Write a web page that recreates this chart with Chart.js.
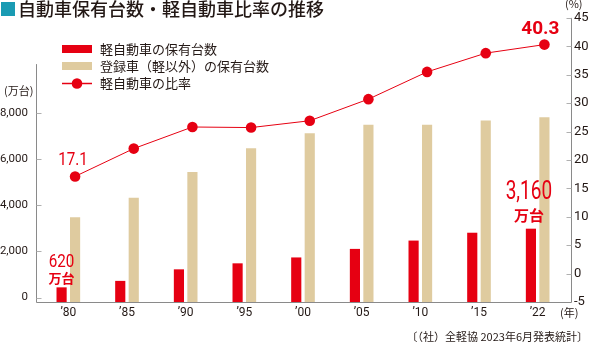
<!DOCTYPE html>
<html lang="ja">
<head>
<meta charset="utf-8">
<script src="https://cdn.jsdelivr.net/npm/chart.js@4/dist/chart.umd.min.js"></script>
<style>
  html, body { margin: 0; padding: 0; background: #fff; }
</style>
</head>
<body>
<canvas id="chart" width="590" height="346"></canvas>
<script>
// data
const years = ['’80', '’85', '’90', '’95', '’00', '’05', '’10', '’15', '’22'];
const keiCars = [620, 900, 1400, 1660, 1915, 2285, 2645, 2985, 3160];          // 万台
const registeredCars = [3660, 4500, 5615, 6645, 7290, 7660, 7660, 7845, 7985];  // 万台
const keiShare = [17.1, 22.0, 25.8, 25.7, 26.9, 30.7, 35.5, 38.8, 40.3];        // %
const unitTicks = [0, 2000, 4000, 6000, 8000];

const FONT = "'Noto Sans CJK JP', sans-serif";
const NUM_FONT = "Roboto, 'Noto Sans CJK JP', sans-serif";
const RED = '#e60012';
const BEIGE = '#dfcb9f';
const TEAL = '#1a9bb3';
const TEXT = '#231815';
const AXIS = '#8a8a8a';
const SLOT = 0.115;          // bar pair sits either side of the year, in category units
const LEFT_AXIS_TOP = 10300; // left axis line starts below the legend

function drawText(ctx, text, x, y, font, color, squeeze = 1, align = 'center') {
  ctx.save();
  ctx.font = font;
  ctx.fillStyle = color;
  ctx.textAlign = align;
  ctx.textBaseline = 'middle';
  ctx.translate(x, y);
  ctx.scale(squeeze, 1);
  ctx.fillText(text, 0, 0);
  ctx.restore();
}

function hLine(ctx, x1, x2, y) {
  ctx.beginPath();
  ctx.moveTo(x1, y);
  ctx.lineTo(x2, y);
  ctx.stroke();
}

const decor = {
  id: 'decor',
  afterDraw(chart) {
    const ctx = chart.ctx;
    const area = chart.chartArea;
    const yL = chart.scales.y;
    const yR = chart.scales.y2;
    const axL = area.left - 3 + 0.5;
    const axR = area.right + 4 + 0.5;
    const axB = area.bottom + 0.5;

    // axis lines with inward tick marks
    ctx.save();
    ctx.strokeStyle = AXIS;
    ctx.lineWidth = 1;
    ctx.beginPath();
    ctx.moveTo(axL, yL.getPixelForValue(LEFT_AXIS_TOP));
    ctx.lineTo(axL, axB);
    ctx.lineTo(axR, axB);
    ctx.lineTo(axR, area.top);
    ctx.stroke();
    ctx.strokeStyle = '#b0b0b0';
    unitTicks.forEach(v => {
      hLine(ctx, axL, axL + 5, Math.round(yL.getPixelForValue(v) - 4.5) + 0.5);
    });
    yR.ticks.forEach(t => {
      if (t.value > -5) hLine(ctx, axR - 5, axR, Math.round(yR.getPixelForValue(t.value)) + 0.5);
    });
    ctx.restore();

    // title
    ctx.fillStyle = TEAL;
    ctx.fillRect(1, 2, 14, 14);
    drawText(ctx, '自動車保有台数・軽自動車比率の推移', 18, 9, `500 18px ${FONT}`, TEXT, 1, 'left');

    // legend
    const ds = chart.data.datasets;
    ctx.fillStyle = ds[0].backgroundColor;
    ctx.fillRect(62, 45, 30, 8);
    ctx.fillStyle = ds[1].backgroundColor;
    ctx.fillRect(62, 62, 30, 8);
    ctx.save();
    ctx.strokeStyle = RED;
    ctx.lineWidth = 1.5;
    hLine(ctx, 62, 92, 83.5);
    ctx.fillStyle = RED;
    ctx.beginPath();
    ctx.arc(77, 83.5, 5.3, 0, Math.PI * 2);
    ctx.fill();
    ctx.restore();
    drawText(ctx, ds[0].label, 100, 49, `13px ${FONT}`, TEXT, 1, 'left');
    drawText(ctx, ds[1].label, 100, 66, `13px ${FONT}`, TEXT, 1, 'left');
    drawText(ctx, ds[2].label, 100, 83, `13px ${FONT}`, TEXT, 1, 'left');

    // unit labels and source
    drawText(ctx, '(万台)', 4, 91, `11px ${FONT}`, TEXT, 1, 'left');
    drawText(ctx, '(%)', 565, 4, `11px ${FONT}`, TEXT, 1, 'left');
    drawText(ctx, '(年)', 560, 313, `11px ${FONT}`, TEXT, 1, 'left');
    drawText(ctx, '〔（社）全軽協 2023年6月発表統計〕', 588, 337, `11px ${FONT}`, TEXT, 1, 'right');

    // value callouts
    const line = chart.getDatasetMeta(2).data;
    const kei = chart.getDatasetMeta(0).data;
    const first = line[0], last = line[line.length - 1];
    drawText(ctx, keiShare[0].toFixed(1), first.x - 2, first.y - 16, `19px ${NUM_FONT}`, RED, 0.8);
    drawText(ctx, keiShare[keiShare.length - 1].toFixed(1), last.x - 4, last.y - 15, `bold 19px ${NUM_FONT}`, RED, 1);

    const b0 = kei[0], bN = kei[kei.length - 1];
    drawText(ctx, keiCars[0].toLocaleString('en-US'), b0.x, b0.y - 25, `19px ${NUM_FONT}`, RED, 0.8);
    drawText(ctx, '万台', b0.x, b0.y - 10, `bold 13px ${FONT}`, RED, 1);
    drawText(ctx, keiCars[keiCars.length - 1].toLocaleString('en-US'), bN.x - 2, bN.y - 36, `25px ${NUM_FONT}`, RED, 0.76);
    drawText(ctx, '万台', bN.x - 2, bN.y - 14, `bold 15px ${FONT}`, RED, 1);
  }
};

const byIndex = arr => arr.map((v, i) => ({ x: i, y: v }));
const barStyle = { type: 'bar', yAxisID: 'y', barThickness: 9.5, grouped: false, order: 2 };

// hidden linear x axes, shifted half a bar pair left/right of each year
function slotAxis(shift) {
  return {
    type: 'linear',
    display: false,
    offset: false,
    grid: { offset: false },
    min: -0.5 - shift,
    max: years.length - 0.5 - shift
  };
}

new Chart(document.getElementById('chart'), {
  data: {
    labels: years,
    datasets: [
      { ...barStyle, label: '軽自動車の保有台数', data: byIndex(keiCars), xAxisID: 'xr', backgroundColor: RED },
      { ...barStyle, label: '登録車（軽以外）の保有台数', data: byIndex(registeredCars), xAxisID: 'xb', backgroundColor: BEIGE },
      {
        type: 'line',
        label: '軽自動車の比率',
        data: byIndex(keiShare),
        xAxisID: 'xb',
        yAxisID: 'y2',
        borderColor: RED,
        borderWidth: 1,
        pointRadius: 5.3,
        pointBackgroundColor: RED,
        pointBorderWidth: 0,
        order: 1
      }
    ]
  },
  options: {
    responsive: false,
    animation: false,
    events: [],
    layout: { padding: { top: 15, left: 0, right: 0, bottom: 0 } },
    plugins: { legend: { display: false }, tooltip: { enabled: false } },
    scales: {
      x: {
        type: 'category',
        offset: true,
        grid: { display: false, drawTicks: false },
        border: { display: false },
        ticks: { color: TEXT, font: { family: NUM_FONT, size: 12 }, padding: 4 },
        afterFit: s => { s.height = 44; }
      },
      xr: slotAxis(-SLOT),
      xb: slotAxis(SLOT),
      y: {
        position: 'left',
        min: 0,
        max: 12300,
        afterBuildTicks: s => { s.ticks = unitTicks.map(v => ({ value: v })); },
        grid: { display: false, drawTicks: false },
        border: { display: false },
        ticks: {
          color: TEXT,
          font: { family: NUM_FONT, size: 11.5 },
          padding: 11,
          labelOffset: -4.5,
          callback: v => v.toLocaleString('en-US')
        },
        afterFit: s => { s.width = 39; }
      },
      y2: {
        position: 'right',
        min: -5,
        max: 45,
        grid: { display: false, drawTicks: false },
        border: { display: false },
        ticks: { stepSize: 5, color: TEXT, font: { family: NUM_FONT, size: 13 }, padding: 7 },
        afterFit: s => { s.width = 23; }
      }
    }
  },
  plugins: [decor]
});
</script>
</body>
</html>
